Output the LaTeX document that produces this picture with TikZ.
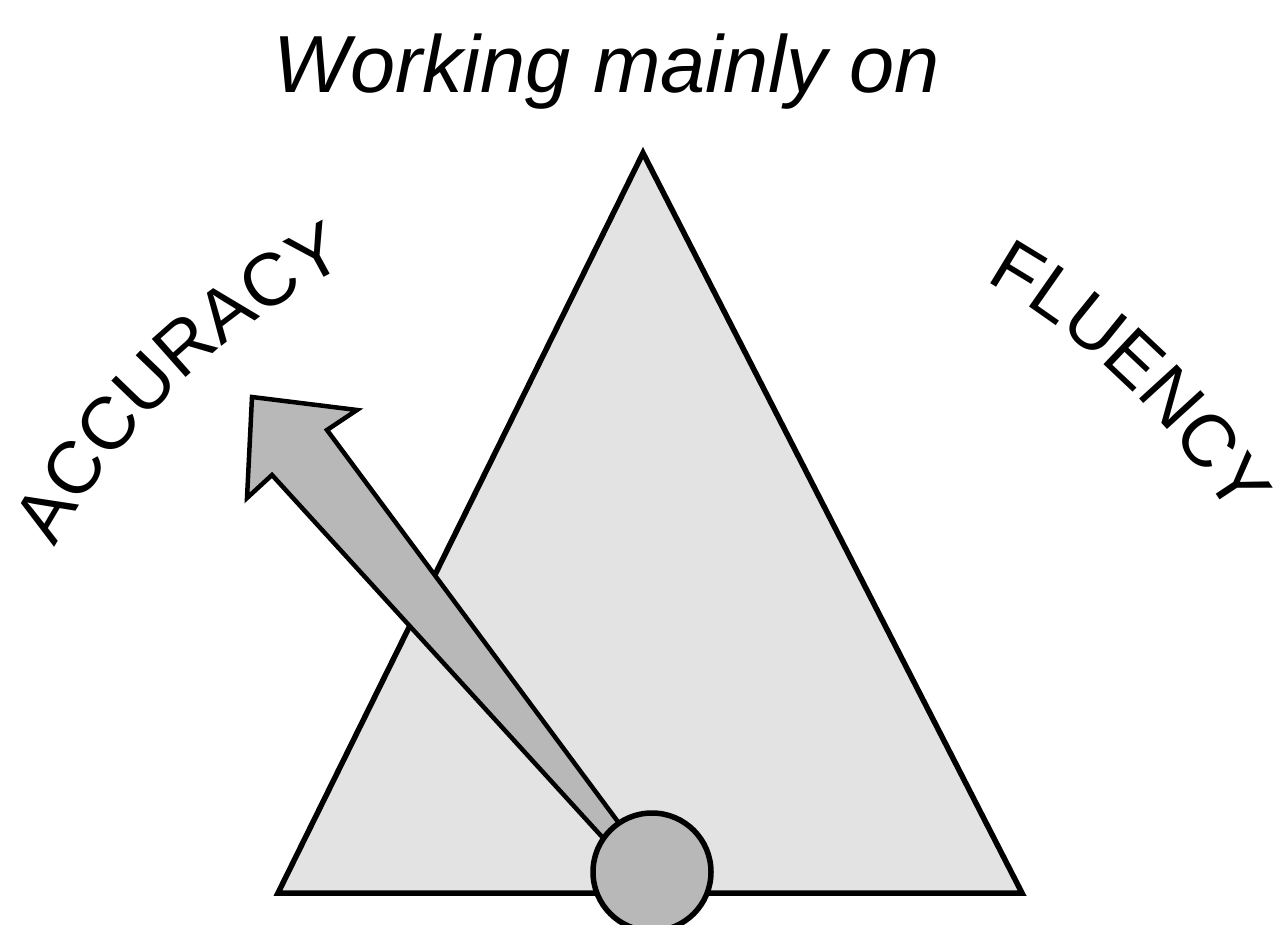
\documentclass[tikz,border=0pt]{standalone}
\usepackage{fontspec}
\setmainfont{Liberation Sans}
\newfontfamily\labfont{Liberation Sans}
\usetikzlibrary{decorations.text}
\begin{document}
\begin{tikzpicture}[x=1pt,y=1pt,
  outline/.style={draw=black,line width=5.5pt,line join=miter},
  lightfill/.style={fill=black!11},
  darkfill/.style={fill=black!28},
  arclabel/.style={decorate,decoration={text along path,text align=center,
     text={|\labfont\fontsize{74}{74}\selectfont|#1}}}]
\useasboundingbox (0,0) rectangle (1273,924);
\clip (0,0) rectangle (1273,924);
\fill[white] (0,0) rectangle (1273,924);
% pivot
\coordinate (O) at (652,52);
% triangle
\coordinate (apex) at (643,771);
\coordinate (bl) at (278,31);
\coordinate (br) at (1022,31);
\draw[outline,lightfill] (apex) -- (br) -- (bl) -- cycle;
% arrow
\draw[draw=black,line width=4.5pt,line join=miter,darkfill]
  (614,74) -- (272,449) -- (247,426) -- (252,527) -- (357,514) -- (327,494) -- (630,86) -- cycle;
% circle
\draw[outline,darkfill] (O) circle[radius=59];
% title
\node[anchor=base,font=\itshape\fontsize{81}{81}\selectfont,inner sep=0pt] (title) at (607,831) {Working mainly on};
% arc labels
\path[arclabel=ACCURACY] (O) ++(164:679) arc[start angle=164,end angle=104,radius=679];
\path[arclabel=FLUENCY] (O) ++(76:679) arc[start angle=76,end angle=16,radius=679];
\end{tikzpicture}
\end{document}
